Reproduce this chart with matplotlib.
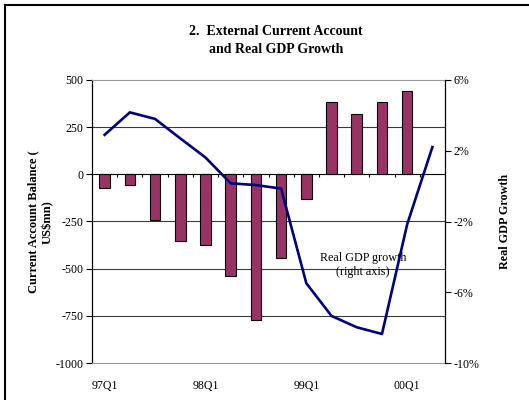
import matplotlib
matplotlib.use("Agg")
import matplotlib.pyplot as plt
from matplotlib.lines import Line2D
from matplotlib.ticker import FuncFormatter
import numpy as np

plt.rcParams['font.family'] = ['Liberation Serif', 'DejaVu Serif']

quarters = ["97Q1", "97Q2", "97Q3", "97Q4", "98Q1", "98Q2", "98Q3", "98Q4",
            "99Q1", "99Q2", "99Q3", "99Q4", "00Q1", "00Q2"]
current_account = [-70, -59, -240, -354, -372, -541, -771, -442,
                   -130, 383, 319, 383, 442, np.nan]
gdp_growth = [2.9, 4.17, 3.8, 2.7, 1.62, 0.16, 0.06, -0.14,
              -5.49, -7.34, -7.98, -8.36, -2.16, 2.21]
xtick_labels = ["97Q1", "98Q1", "99Q1", "00Q1"]
left_ticks = [500, 250, 0, -250, -500, -750, -1000]
right_ticks = [6, 2, -2, -6, -10]

W, H = 529, 400
fig = plt.figure(figsize=(W / 100, H / 100), dpi=100)
ax = fig.add_axes([92 / W, 1 - 363 / H, (445 - 92) / W, (363 - 80) / H])

x = np.arange(len(quarters))
ax.bar(x, current_account, width=0.42, color='#993366', edgecolor='black',
       linewidth=0.8, zorder=3)
ax.set_xlim(-0.5, len(quarters) - 0.5)
ax.set_ylim(-1000, 500)
ax.set_yticks(left_ticks)
ax.yaxis.set_major_formatter(FuncFormatter(lambda v, p: f"{int(v)}"))
for t in left_ticks[1:-1]:
    ax.axhline(t, color='black' if t == 0 else '#3a3a3a', lw=0.8, zorder=1)
# category tick marks on the zero line
ax.vlines(x[:-1] + 0.5, -16, 0, color='black', lw=0.8, zorder=2)

ax.set_xticks([quarters.index(q) for q in xtick_labels])
ax.set_xticklabels(xtick_labels)
ax.tick_params(axis='x', length=0, pad=12, labelsize=8.6)
ax.tick_params(axis='y', direction='out', length=4, width=0.8, pad=2, labelsize=8.6)
ax.spines['top'].set_color('#999999')
ax.spines['bottom'].set_color('#999999')
ax.spines['left'].set_linewidth(0.9)
ax.spines['right'].set_visible(False)

ax2 = ax.twinx()
ax2.plot(x, gdp_growth, color='#000080', lw=1.9, zorder=4)
ax2.set_ylim(-10, 6)
ax2.set_yticks(right_ticks)
ax2.yaxis.set_major_formatter(FuncFormatter(lambda v, p: f"{int(v)}%"))
ax2.tick_params(axis='y', direction='out', length=4, width=0.8, pad=2, labelsize=8.6)
for s in ['top', 'bottom', 'left']:
    ax2.spines[s].set_visible(False)
ax2.spines['right'].set_linewidth(0.9)

ax2.text(10.25, -4.45, "Real GDP growth\n(right axis)", ha='center', va='center',
         fontsize=8.7, linespacing=1.25)

fig.text(276 / W, 1 - 40.5 / H, "2.  External Current Account\nand Real GDP Growth",
         ha='center', va='center', fontsize=10, fontweight='bold', linespacing=1.45)
fig.text(40.5 / W, 1 - 222 / H, "Current Account Balance (\nUS$mn)", rotation=90,
         ha='center', va='center', fontsize=9, fontweight='bold', linespacing=1.2)
fig.text(505 / W, 1 - 221.5 / H, "Real GDP Growth", rotation=90,
         ha='center', va='center', fontsize=8.7, fontweight='bold')

# outer frame (top and left edges visible in the reference)
fig.add_artist(Line2D([5 / W, 5 / W], [0, 1 - 5 / H], transform=fig.transFigure,
                      color='black', lw=1.5))
fig.add_artist(Line2D([5 / W, 1], [1 - 5 / H, 1 - 5 / H], transform=fig.transFigure,
                      color='black', lw=1.5))

fig.savefig("out.png", dpi=100)
